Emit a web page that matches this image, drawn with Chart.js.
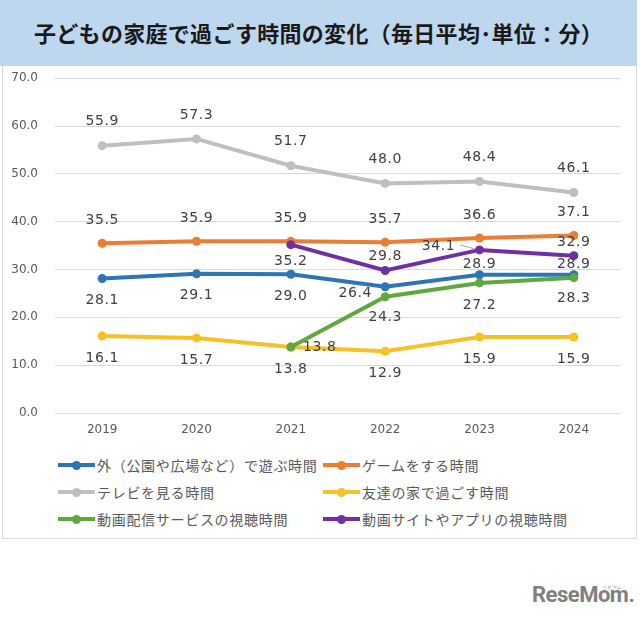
<!DOCTYPE html>
<html>
<head>
<meta charset="utf-8">
<script src="https://cdn.jsdelivr.net/npm/chart.js@4.4.1/dist/chart.umd.min.js"></script>
<style>
  body { margin: 0; width: 640px; height: 621px; background: #fff; position: relative; overflow: hidden;
         font-family: "Noto Sans CJK JP", sans-serif; }
  #title { position: absolute; left: 0; top: 0; width: 637px; height: 66px; background: #bdd7ee;
           font-weight: bold; font-size: 22px; line-height: 64px; padding-left: 34px; box-sizing: border-box;
           color: #1a1a1a; white-space: nowrap; letter-spacing: 0.3px; z-index: 2; }
  #box { position: absolute; left: 2px; top: 66px; width: 635px; height: 473px; box-sizing: border-box;
         border: 1px solid #d9d9d9; border-top: none; }
  #wrap { position: absolute; left: 0; top: 54px; width: 640px; height: 392px; }
  #legend { position: absolute; left: 0; top: 0; }
  .item { position: absolute; height: 20px; display: flex; align-items: center; white-space: nowrap;
          font-size: 14px; letter-spacing: 0.7px; color: #595959; }
  .sym { position: relative; width: 37px; height: 4px; margin-right: 2px; }
  .sym i { position: absolute; left: 14px; top: -2.5px; width: 9px; height: 9px; border-radius: 50%; }
  #logo { position: absolute; left: 532px; top: 582px; font-family: Roboto, sans-serif; font-weight: bold;
          font-size: 22px; color: #808080; letter-spacing: -0.5px; }
  #logo small { position: absolute; left: 70px; top: 2px; font-size: 5px; letter-spacing: 0; font-weight: normal; }
</style>
</head>
<body>
<div id="box"></div>
<div id="wrap"><canvas id="chart" width="640" height="392"></canvas></div>
<div id="title">子どもの家庭で過ごす時間の変化（毎日平均･単位：分）</div>
<div id="legend"></div>
<div id="logo">ReseMom.<small>リセマム</small></div>
<script>
// data
const years = ['2019', '2020', '2021', '2022', '2023', '2024'];
const outdoor = [28.1, 29.1, 29.0, 26.4, 28.9, 28.9];
const games = [35.5, 35.9, 35.9, 35.7, 36.6, 37.1];
const tv = [55.9, 57.3, 51.7, 48.0, 48.4, 46.1];
const friends = [16.1, 15.7, 13.8, 12.9, 15.9, 15.9];
const streaming = [null, null, 13.8, 24.3, 27.2, 28.3];
const videoApps = [null, null, 35.2, 29.8, 34.1, 32.9];
const seriesNames = ['外（公園や広場など）で遊ぶ時間', 'ゲームをする時間', 'テレビを見る時間',
  '友達の家で過ごす時間', '動画配信サービスの視聴時間', '動画サイトやアプリの視聴時間'];
const yMax = 70;
const yStep = 10;

const colors = ['#2e75b6', '#ed7d31', '#bfbfbf', '#f5c125', '#5fa83f', '#7030a0'];

// label offsets from each point [dx, dy]
const A = [0, -23], B = [0, 22];
const labelOffsets = [
  [B, B, B, [-30, 7], [0, -10], [0, -10]],
  [A, A, A, A, A, A],
  [[0, -24], [0, -24], [0, -24], [0, -24], [0, -24], [0, -24]],
  [B, B, B, B, B, B],
  [null, null, [29, 0], [0, 21], [0, 22], [0, 21]],
  [null, null, [0, 17], [0, -14], [-41, -4], [0, -13]]
];

const allSeries = [outdoor, games, tv, friends, streaming, videoApps];

const dataLabels = {
  id: 'dataLabels',
  afterDatasetsDraw(chart) {
    const ctx = chart.ctx;
    ctx.save();
    ctx.font = '14px "DejaVu Sans"';
    ctx.letterSpacing = '0.6px';
    ctx.fillStyle = '#404040';
    ctx.textAlign = 'center';
    ctx.textBaseline = 'middle';
    chart.data.datasets.forEach((ds, i) => {
      const meta = chart.getDatasetMeta(i);
      meta.data.forEach((pt, j) => {
        const v = ds.data[j];
        if (v === null) return;
        const off = labelOffsets[i][j];
        const x = pt.x + off[0], y = pt.y + off[1];
        ctx.fillText(v.toFixed(1), x, y);
        // leader line for the shifted label
        if (Math.abs(off[0]) > 35) {
          ctx.strokeStyle = '#a6a6a6';
          ctx.lineWidth = 1;
          ctx.beginPath();
          ctx.moveTo(x + 22, y - 1);
          ctx.lineTo(pt.x - 5, pt.y - 1);
          ctx.stroke();
        }
      });
    });
    ctx.restore();
  }
};

Chart.defaults.font.family = '"DejaVu Sans"';

new Chart(document.getElementById('chart'), {
  type: 'line',
  data: {
    labels: years,
    datasets: allSeries.map((d, i) => ({
      label: seriesNames[i],
      data: d,
      borderColor: colors[i],
      backgroundColor: colors[i],
      borderWidth: 4,
      pointRadius: 4.5,
      pointBorderWidth: 0,
      tension: 0,
      order: allSeries.length - i
    }))
  },
  plugins: [dataLabels],
  options: {
    responsive: false,
    animation: false,
    devicePixelRatio: 1,
    layout: { padding: { top: 2, right: 19, left: 0, bottom: 0 } },
    plugins: { legend: { display: false }, tooltip: { enabled: false } },
    scales: {
      x: {
        offset: true,
        grid: { display: false },
        border: { display: false },
        ticks: { color: '#595959', font: { size: 12 }, padding: 2 },
        afterFit: (s) => { s.height = 33; }
      },
      y: {
        min: 0,
        max: yMax,
        ticks: { stepSize: yStep, color: '#595959', font: { size: 12 }, padding: 17,
                 callback: (v) => v.toFixed(1) },
        grid: { color: '#d9d9d9', lineWidth: 1, drawTicks: false },
        border: { display: false },
        afterFit: (s) => { s.width = 55; }
      }
    }
  }
});

// legend in two columns
const legend = document.getElementById('legend');
const cols = [58, 323], rows = [465, 492, 519];
seriesNames.forEach((name, i) => {
  const el = document.createElement('div');
  el.className = 'item';
  el.style.left = cols[i % 2] + 'px';
  el.style.top = (rows[Math.floor(i / 2)] - 10) + 'px';
  el.innerHTML = '<span class="sym" style="background:' + colors[i] + '"><i style="background:' + colors[i] + '"></i></span>' + name;
  legend.appendChild(el);
});
</script>
</body>
</html>
